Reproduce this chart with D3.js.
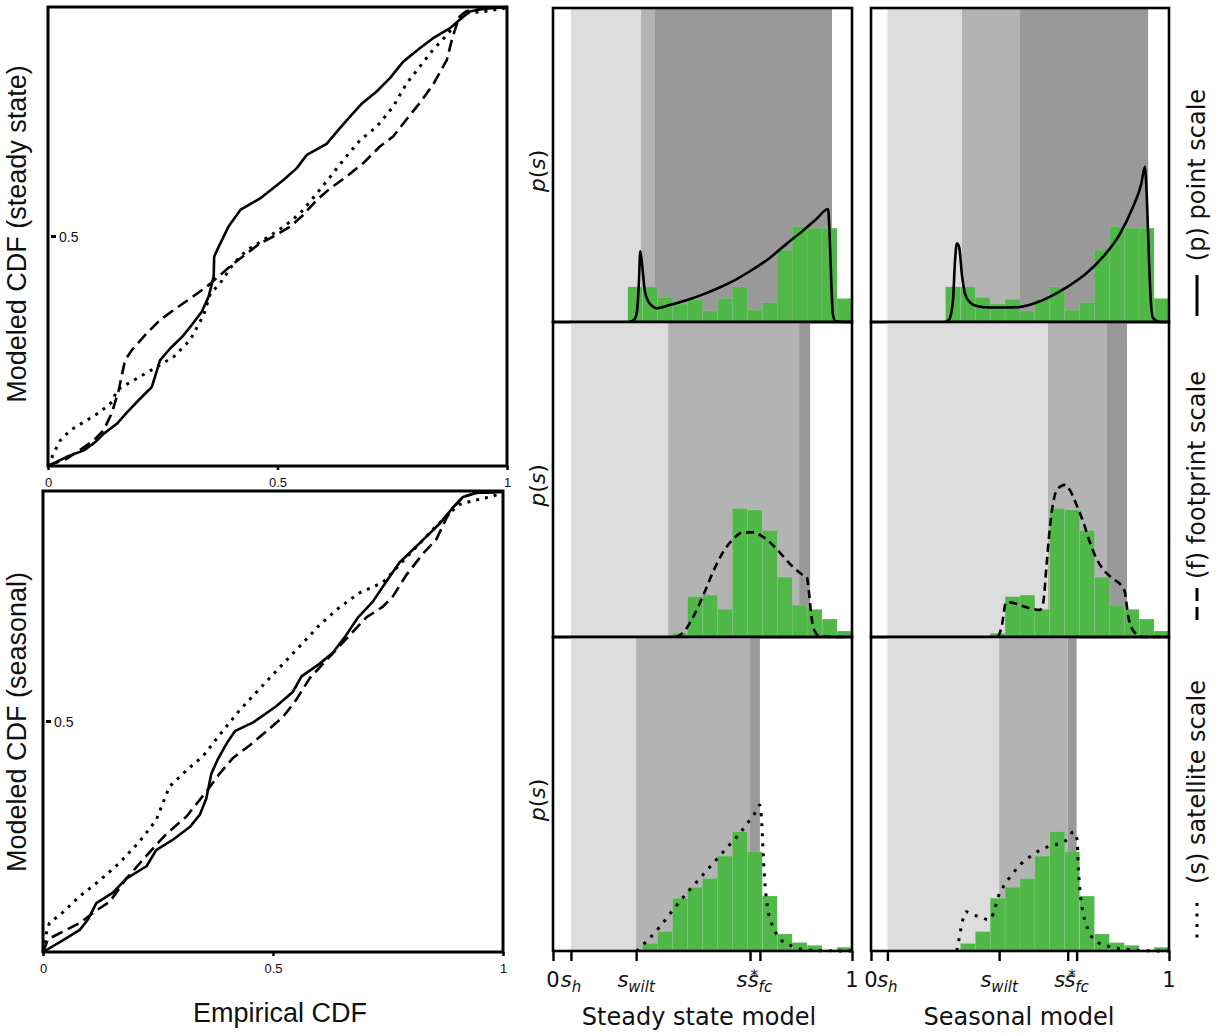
<!DOCTYPE html>
<html>
<head>
<meta charset="utf-8">
<script src="https://cdn.jsdelivr.net/npm/d3@7"></script>
<style>
  body { margin: 0; background: #fff; }
  svg { display: block; }
</style>
</head>
<body>
<svg id="fig" width="1225" height="1036"></svg>
<script>
'use strict';

// ---------- data ----------

// Modeled CDF vs empirical CDF, steady state model (top left panel)
var cdfSteadyPoint = [[0,0],[0.041,0.020],[0.078,0.034],[0.103,0.052],[0.121,0.070],[0.150,0.092],[0.172,0.117],[0.201,0.147],[0.226,0.172],[0.233,0.194],[0.244,0.230],[0.266,0.256],[0.292,0.281],[0.313,0.307],[0.335,0.336],[0.350,0.369],[0.361,0.413],[0.362,0.456],[0.372,0.478],[0.393,0.521],[0.419,0.558],[0.462,0.583],[0.513,0.623],[0.542,0.649],[0.564,0.678],[0.607,0.702],[0.636,0.736],[0.658,0.761],[0.684,0.790],[0.716,0.816],[0.745,0.845],[0.774,0.881],[0.810,0.910],[0.839,0.932],[0.876,0.954],[0.897,0.972],[0.919,0.990],[0.948,0.996],[1,1]];
var cdfSteadyFoot = [[0,0],[0.041,0.016],[0.074,0.038],[0.100,0.056],[0.121,0.078],[0.139,0.115],[0.154,0.165],[0.168,0.231],[0.183,0.253],[0.215,0.289],[0.244,0.318],[0.274,0.340],[0.310,0.365],[0.346,0.391],[0.375,0.416],[0.404,0.441],[0.433,0.463],[0.462,0.485],[0.491,0.500],[0.527,0.521],[0.556,0.547],[0.586,0.580],[0.615,0.605],[0.651,0.631],[0.687,0.660],[0.723,0.696],[0.752,0.718],[0.781,0.755],[0.810,0.791],[0.839,0.831],[0.869,0.885],[0.880,0.929],[0.890,0.961],[0.901,0.983],[0.912,0.991],[0.948,0.996],[1,1]];
var cdfSteadySat = [[0,0],[0.012,0.027],[0.027,0.056],[0.049,0.078],[0.085,0.100],[0.114,0.118],[0.140,0.140],[0.150,0.165],[0.168,0.176],[0.201,0.195],[0.237,0.216],[0.274,0.238],[0.310,0.275],[0.339,0.329],[0.354,0.376],[0.375,0.398],[0.404,0.441],[0.433,0.470],[0.469,0.492],[0.513,0.521],[0.549,0.550],[0.586,0.594],[0.615,0.630],[0.643,0.666],[0.680,0.710],[0.716,0.739],[0.752,0.783],[0.781,0.833],[0.810,0.870],[0.839,0.907],[0.869,0.939],[0.890,0.965],[0.897,0.979],[0.912,0.987],[0.948,0.990],[1,0.998]];

// Modeled CDF vs empirical CDF, seasonal model (bottom left panel)
var cdfSeasonPoint = [[0,0],[0.043,0.025],[0.080,0.048],[0.098,0.071],[0.116,0.106],[0.152,0.129],[0.181,0.159],[0.225,0.186],[0.246,0.221],[0.283,0.244],[0.319,0.271],[0.341,0.298],[0.355,0.333],[0.366,0.387],[0.380,0.418],[0.399,0.452],[0.417,0.479],[0.457,0.498],[0.507,0.533],[0.543,0.564],[0.562,0.598],[0.601,0.625],[0.630,0.649],[0.656,0.683],[0.685,0.726],[0.717,0.760],[0.746,0.803],[0.775,0.845],[0.819,0.887],[0.862,0.929],[0.891,0.964],[0.913,0.987],[0.942,0.996],[1,0.998]];
var cdfSeasonFoot = [[0,0],[0.011,0.028],[0.043,0.044],[0.080,0.063],[0.116,0.090],[0.145,0.109],[0.181,0.159],[0.225,0.209],[0.268,0.256],[0.312,0.294],[0.355,0.348],[0.384,0.387],[0.413,0.421],[0.449,0.448],[0.486,0.479],[0.522,0.510],[0.551,0.548],[0.580,0.594],[0.616,0.633],[0.645,0.664],[0.674,0.695],[0.703,0.726],[0.739,0.749],[0.761,0.772],[0.790,0.818],[0.826,0.864],[0.855,0.895],[0.877,0.941],[0.891,0.964],[0.913,0.987],[0.942,0.996],[1,0.998]];
var cdfSeasonSat = [[0,0],[0.007,0.040],[0.014,0.063],[0.043,0.086],[0.080,0.121],[0.123,0.155],[0.167,0.194],[0.210,0.240],[0.246,0.286],[0.275,0.359],[0.312,0.394],[0.348,0.425],[0.384,0.471],[0.428,0.525],[0.471,0.571],[0.514,0.617],[0.558,0.663],[0.601,0.709],[0.645,0.748],[0.688,0.779],[0.739,0.802],[0.775,0.840],[0.812,0.879],[0.848,0.917],[0.884,0.952],[0.906,0.971],[0.935,0.979],[0.971,0.987],[1,0.996]];

// Observed soil moisture histograms (density, 20 bins of width 0.05 on [0,1])
var histPoint = [0,0,0,0,0,1.12,1.12,0.78,0.57,0.72,0.35,0.75,1.12,0.38,0.62,2.29,3.04,2.99,2.99,0.75];
var histFoot  = [0,0,0,0,0,0,0,0,0.12,1.28,1.33,0.88,4.08,4.03,3.38,1.90,1.01,0.88,0.57,0.19];
var histSat   = [0,0,0,0,0,0,0.24,0.62,1.68,2.03,2.31,3.02,3.80,3.16,1.75,0.54,0.27,0.18,0,0.12];

// Modeled pdf p(s), steady state model
var pdfSteadyPoint = [[0.256,0],[0.273,0.09],[0.281,0.35],[0.287,1.20],[0.292,2.25],[0.299,1.74],[0.307,0.99],[0.318,0.67],[0.332,0.51],[0.346,0.44],[0.390,0.54],[0.446,0.69],[0.502,0.88],[0.557,1.10],[0.613,1.36],[0.669,1.68],[0.725,2.04],[0.780,2.48],[0.836,2.91],[0.881,3.28],[0.920,3.60],[0.925,2.80],[0.931,1.20],[0.936,0.25],[0.945,0.03],[0.970,0],[1,0]];
var pdfSteadyFoot = [[0.412,0],[0.440,0.19],[0.468,0.62],[0.502,1.31],[0.535,2.06],[0.569,2.70],[0.602,3.10],[0.635,3.32],[0.669,3.32],[0.702,3.18],[0.736,2.91],[0.769,2.57],[0.803,2.22],[0.831,2.00],[0.849,1.90],[0.856,1.42],[0.864,0.67],[0.875,0.19],[0.892,0.03],[0.925,0],[1,0]];
var pdfSteadySat = [[0.279,0],[0.312,0.30],[0.357,0.77],[0.401,1.30],[0.446,1.83],[0.491,2.31],[0.535,2.79],[0.580,3.27],[0.624,3.74],[0.658,4.17],[0.682,4.49],[0.691,4.65],[0.697,4.27],[0.702,3.32],[0.708,2.26],[0.719,1.30],[0.736,0.77],[0.758,0.40],[0.792,0.19],[0.836,0.05],[0.892,0.01],[1,0]];

// Modeled pdf p(s), seasonal model
var pdfSeasonPoint = [[0.249,0],[0.263,0.09],[0.275,0.67],[0.282,1.95],[0.288,2.51],[0.296,2.38],[0.305,1.52],[0.316,0.88],[0.333,0.62],[0.355,0.51],[0.400,0.46],[0.455,0.46],[0.500,0.48],[0.556,0.62],[0.600,0.80],[0.656,1.10],[0.723,1.55],[0.779,2.08],[0.835,2.80],[0.879,3.66],[0.907,4.40],[0.919,4.94],[0.926,3.87],[0.933,1.95],[0.939,0.67],[0.946,0.14],[0.969,0],[1,0]];
var pdfSeasonFoot = [[0.427,0],[0.439,0.35],[0.453,1.10],[0.467,1.10],[0.500,1.01],[0.533,0.91],[0.567,0.86],[0.578,1.10],[0.589,2.27],[0.600,3.44],[0.612,4.30],[0.628,4.72],[0.651,4.83],[0.667,4.67],[0.690,4.19],[0.712,3.66],[0.734,3.02],[0.757,2.48],[0.785,2.08],[0.813,1.84],[0.840,1.63],[0.852,1.42],[0.863,0.67],[0.874,0.30],[0.891,0.09],[0.913,0],[1,0]];
var pdfSeasonSat = [[0.288,0],[0.297,0.46],[0.308,0.99],[0.319,1.25],[0.344,1.15],[0.372,1.07],[0.394,0.99],[0.411,1.20],[0.427,1.73],[0.444,2.05],[0.472,2.42],[0.500,2.74],[0.533,3.00],[0.567,3.21],[0.600,3.34],[0.634,3.43],[0.662,3.58],[0.679,3.80],[0.692,3.53],[0.695,2.79],[0.701,1.94],[0.712,1.20],[0.729,0.67],[0.757,0.30],[0.801,0.14],[0.857,0.05],[0.924,0.01],[1,0]];

// Soil moisture thresholds [s_h, s_wilt, s*, s_fc] per panel
var thrSteadyPoint = [0.060, 0.294, 0.341, 0.933];
var thrSteadyFoot  = [0.060, 0.385, 0.823, 0.860];
var thrSteadySat   = [0.060, 0.278, 0.659, 0.692];
var thrSeasonPoint = [0.055, 0.305, 0.500, 0.930];
var thrSeasonFoot  = [0.055, 0.594, 0.792, 0.859];
var thrSeasonSat   = [0.055, 0.430, 0.660, 0.690];

// Tick labels on the s axis: [base, script, script kind]
var sTickLabels = [['0', '', ''], ['s', 'h', 'sub'], ['s', 'wilt', 'sub'], ['s', '*', 'sup'], ['s', 'fc', 'sub'], ['1', '', '']];
var cdfTicks = [0, 0.5, 1];
var scaleNames = ['(p) point scale', '(f) footprint scale', '(s) satellite scale'];

// ---------- styles ----------
var SANS = "'Liberation Sans', Arial, sans-serif";
var DEJAVU = "'DejaVu Sans', sans-serif";
var GREEN = '#50b848';
var SHADES = ['#dddddd', '#b3b3b3', '#999999'];   // s_h..s_wilt, s_wilt..s*, s*..s_fc
var cdfStyle = [                                    // point, footprint, satellite
    {dash: null, width: 2.6},
    {dash: '12,6', width: 2.6},
    {dash: '3,6', width: 3}
];
var pdfStyle = [
    {dash: null, width: 2.6},
    {dash: '8,5', width: 2.6},
    {dash: '3,7', width: 3}
];

var svg = d3.select('#fig');

// ---------- left column: CDF comparison ----------
function drawCdfPanel(xRange, yRange, seriesList, label, labelY) {
    var xs = d3.scaleLinear().domain([0, 1]).range(xRange);
    var ys = d3.scaleLinear().domain([0, 1]).range(yRange);
    var g = svg.append('g');

    var line = d3.line().x(function(d) {return xs(d[0]);}).y(function(d) {return ys(d[1]);});
    seriesList.forEach(function(s, i) {
        g.append('path')
            .attr('d', line(s))
            .attr('fill', 'none')
            .attr('stroke', '#000')
            .attr('stroke-width', cdfStyle[i].width)
            .attr('stroke-dasharray', cdfStyle[i].dash)
            .attr('stroke-linejoin', 'round');
    });

    // x axis ticks + labels
    var ax = g.append('g')
        .attr('transform', 'translate(0,' + yRange[0] + ')')
        .call(d3.axisBottom(xs).tickValues(cdfTicks).tickSize(4).tickPadding(8)
            .tickFormat(function(d) {return d === 0.5 ? '0.5' : d3.format('d')(d);}));
    ax.select('.domain').remove();
    ax.selectAll('line').attr('stroke-width', 2.5);
    ax.selectAll('text').style('font-family', SANS).style('font-size', '13px').attr('fill', '#111');

    // y tick at 0.5, drawn inside the frame
    var yTick = g.append('g').attr('transform', 'translate(' + xRange[0] + ',' + ys(0.5) + ')');
    yTick.append('line').attr('x1', 3).attr('x2', 8).attr('stroke', '#000').attr('stroke-width', 3);
    yTick.append('text').attr('x', 11).attr('dy', '0.36em')
        .style('font-family', SANS).style('font-size', '14px').attr('fill', '#111').text('0.5');

    // frame
    g.append('rect')
        .attr('x', xRange[0]).attr('y', yRange[1])
        .attr('width', xRange[1] - xRange[0]).attr('height', yRange[0] - yRange[1])
        .attr('fill', 'none').attr('stroke', '#000').attr('stroke-width', 3);

    svg.append('text')
        .attr('transform', 'translate(26,' + labelY + ') rotate(-90)')
        .attr('text-anchor', 'middle')
        .style('font-family', SANS).style('font-size', '27px').attr('fill', '#111')
        .text(label);
}

drawCdfPanel([48, 507], [466, 7], [cdfSteadyPoint, cdfSteadyFoot, cdfSteadySat], 'Modeled CDF (steady state)', 234);
drawCdfPanel([43, 503], [952, 491], [cdfSeasonPoint, cdfSeasonFoot, cdfSeasonSat], 'Modeled CDF (seasonal)', 722);

svg.append('text')
    .attr('x', 280).attr('y', 1022)
    .attr('text-anchor', 'middle')
    .style('font-family', SANS).style('font-size', '27px').attr('fill', '#111')
    .text('Empirical CDF');

// ---------- middle + right columns: p(s) panels ----------
var rowTops = [8, 322, 637, 951];

function mathTick(g, x, y, lab) {
    var t = g.append('text')
        .attr('x', x).attr('y', y)
        .attr('text-anchor', 'middle')
        .style('font-family', DEJAVU).style('font-size', '21px').attr('fill', '#111');
    if (!lab[1]) {
        t.text(lab[0]);
        return;
    }
    t.append('tspan').style('font-style', 'italic').text(lab[0]);
    if (lab[2] === 'sub') {
        t.append('tspan').attr('dy', 5).style('font-size', '15px').style('font-style', 'italic').text(lab[1]);
    } else {
        // superscript label sits left of its tick so it does not hide s_fc
        t.attr('text-anchor', 'end').attr('x', x + 8);
        t.append('tspan').attr('dx', 3).attr('dy', -6).style('font-size', '15px').text(lab[1]);
    }
}

function drawPdfPanel(xRange, row, thr, hist, pdf, styleIdx, isBottom) {
    var top = rowTops[row], bottom = rowTops[row + 1];
    var xs = d3.scaleLinear().domain([0, 1]).range(xRange);
    var ys = d3.scaleLinear().domain([0, 10]).range([bottom, top]);
    var g = svg.append('g');

    // threshold bands
    for (var i = 0; i < 3; i++) {
        g.append('rect')
            .attr('x', xs(thr[i])).attr('y', top)
            .attr('width', xs(thr[i + 1]) - xs(thr[i]))
            .attr('height', bottom - top)
            .attr('fill', SHADES[i]);
    }

    // observed histogram
    var bw = 1 / hist.length;
    g.selectAll('rect.bar')
        .data(hist.map(function(v, j) {return {x0: j * bw, x1: (j + 1) * bw, v: v};})
            .filter(function(d) {return d.v > 0;}))
        .enter().append('rect')
        .attr('class', 'bar')
        .attr('x', function(d) {return xs(d.x0);})
        .attr('y', function(d) {return ys(d.v);})
        .attr('width', function(d) {return xs(d.x1) - xs(d.x0);})
        .attr('height', function(d) {return ys(0) - ys(d.v);})
        .attr('fill', GREEN)
        .attr('stroke', 'rgba(255,255,255,0.18)')
        .attr('stroke-width', 0.6);

    // modeled pdf
    var line = d3.line()
        .x(function(d) {return xs(d[0]);})
        .y(function(d) {return ys(d[1]);})
        .curve(d3.curveMonotoneX);
    g.append('path')
        .attr('d', line(pdf))
        .attr('fill', 'none')
        .attr('stroke', '#000')
        .attr('stroke-width', pdfStyle[styleIdx].width)
        .attr('stroke-dasharray', pdfStyle[styleIdx].dash)
        .attr('stroke-linejoin', 'round');

    // frame
    g.append('rect')
        .attr('x', xRange[0]).attr('y', top)
        .attr('width', xRange[1] - xRange[0]).attr('height', bottom - top)
        .attr('fill', 'none').attr('stroke', '#000').attr('stroke-width', 2.6);

    if (isBottom) {
        var tickVals = [0].concat(thr).concat([1]);
        var ax = g.append('g')
            .attr('transform', 'translate(0,' + bottom + ')')
            .call(d3.axisBottom(xs).tickValues(tickVals).tickSize(10).tickFormat(''));
        ax.select('.domain').remove();
        ax.selectAll('line').attr('stroke-width', 2.4);
        tickVals.forEach(function(v, k) {
            mathTick(g, xs(v), 987, sTickLabels[k]);
        });
    }
}

var midX = [553, 852];
var rightX = [871, 1169];
var steadyThr = [thrSteadyPoint, thrSteadyFoot, thrSteadySat];
var seasonThr = [thrSeasonPoint, thrSeasonFoot, thrSeasonSat];
var hists = [histPoint, histFoot, histSat];
var steadyPdf = [pdfSteadyPoint, pdfSteadyFoot, pdfSteadySat];
var seasonPdf = [pdfSeasonPoint, pdfSeasonFoot, pdfSeasonSat];

for (var r = 0; r < 3; r++) {
    drawPdfPanel(midX, r, steadyThr[r], hists[r], steadyPdf[r], r, r === 2);
    drawPdfPanel(rightX, r, seasonThr[r], hists[r], seasonPdf[r], r, r === 2);

    // p(s) y label
    var yc = (rowTops[r] + rowTops[r + 1]) / 2 + 6;
    var pl = svg.append('text')
        .attr('transform', 'translate(545,' + yc + ') rotate(-90)')
        .attr('text-anchor', 'middle')
        .style('font-family', DEJAVU).style('font-size', '22px').attr('fill', '#111');
    pl.append('tspan').style('font-style', 'italic').text('p');
    pl.append('tspan').text('(');
    pl.append('tspan').style('font-style', 'italic').text('s');
    pl.append('tspan').text(')');
}

svg.append('text')
    .attr('x', 699).attr('y', 1025).attr('text-anchor', 'middle')
    .style('font-family', DEJAVU).style('font-size', '24px').attr('fill', '#111')
    .text('Steady state model');
svg.append('text')
    .attr('x', 1019).attr('y', 1025).attr('text-anchor', 'middle')
    .style('font-family', DEJAVU).style('font-size', '24px').attr('fill', '#111')
    .text('Seasonal model');

// ---------- right side: scale legend ----------
var legendText = [175, 475, 782];     // centre of rotated label
var legendLine = [[275, 316], [588, 620], [903, 938]];
for (var k = 0; k < 3; k++) {
    svg.append('text')
        .attr('transform', 'translate(1205,' + legendText[k] + ') rotate(-90)')
        .attr('text-anchor', 'middle')
        .style('font-family', DEJAVU).style('font-size', '24px').attr('fill', '#111')
        .text(scaleNames[k]);
    svg.append('line')
        .attr('x1', 1197).attr('x2', 1197)
        .attr('y1', legendLine[k][0]).attr('y2', legendLine[k][1])
        .attr('stroke', '#000')
        .attr('stroke-width', 3)
        .attr('stroke-dasharray', k === 0 ? null : (k === 1 ? '13,6' : '3,7.5'));
}
</script>
</body>
</html>
